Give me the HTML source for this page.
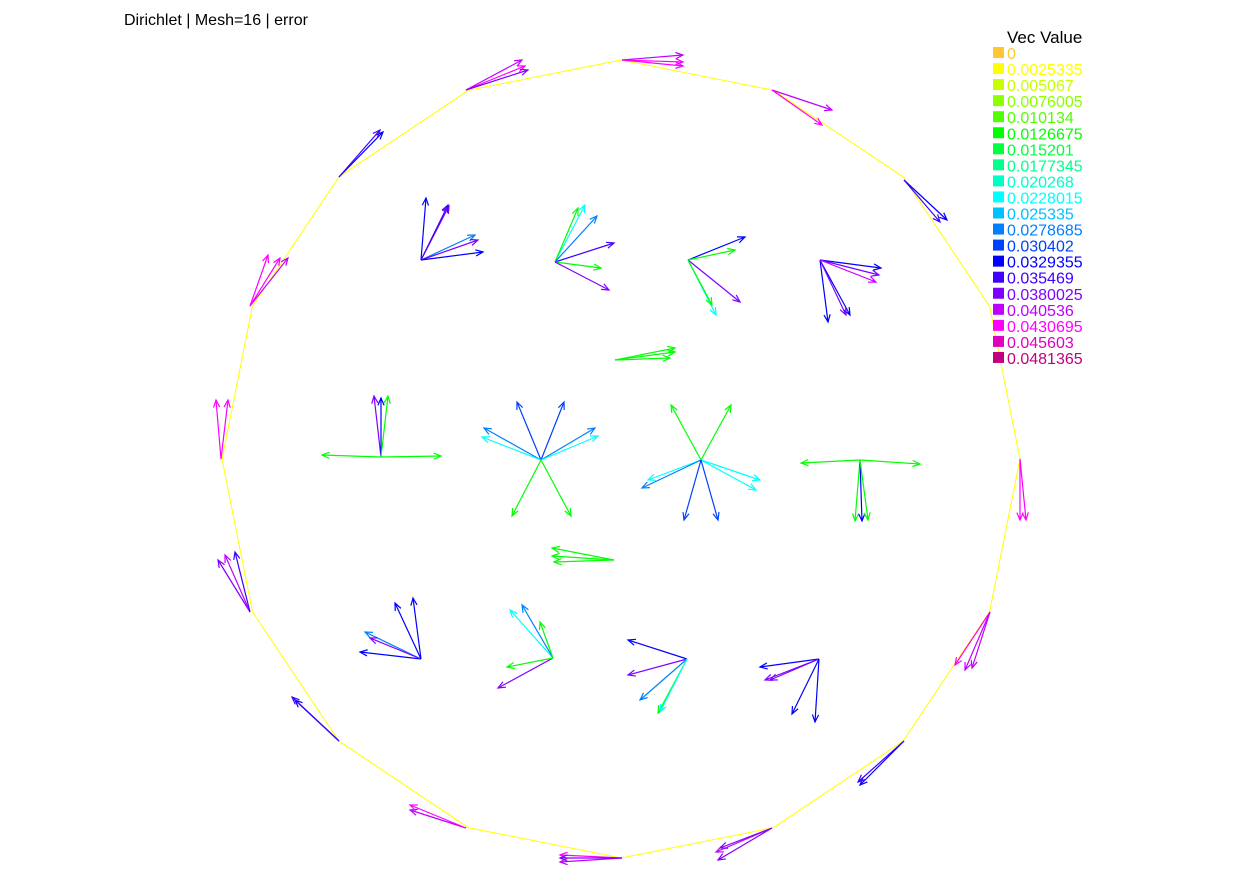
<!DOCTYPE html>
<html><head><meta charset="utf-8"><style>
body{margin:0;background:#fff;}
svg{display:block;}
text{font-family:"Liberation Sans",sans-serif;}
</style></head><body>
<svg id="c" width="1242" height="877">
<text x="124" y="25" font-size="16" fill="#000">Dirichlet | Mesh=16 | error</text>
<text x="1007" y="43" font-size="17" fill="#000">Vec Value</text>
<g id="mesh"></g><g id="arrows"></g><g id="legend"></g>
</svg>
<script>
const NS="http://www.w3.org/2000/svg";
const legendLabels=["0","0.0025335","0.005067","0.0076005","0.010134","0.0126675","0.015201","0.0177345","0.020268","0.0228015","0.025335","0.0278685","0.030402","0.0329355","0.035469","0.0380025","0.040536","0.0430695","0.045603","0.0481365"];
const legendColors=["#ffc832","#ffff00","#c8ff00","#8cff00","#50ff00","#00ff00","#00ff3c","#00ff8c","#00ffc8","#00ffff","#00c0ff","#0080ff","#0040ff","#0000ff","#4000ff","#8000ff","#c000ff","#ff00ff","#e000c0","#c00080"];
const meshCenter=[621,459], meshRadius=399, meshSides=16;
// arrows: origin x, origin y, tip x, tip y, color index
const arrowX0=[622,622,622,772,772,904,904,1020,1020,990,990,990,904,904,772,772,772,622,622,622,466,466,339,339,250,250,250,221,221,250,250,250,339,339,466,466,466,
421,421,421,421,421,421,555,555,555,555,555,555,688,688,688,688,688,820,820,820,820,820,820,615,615,615,
381,381,381,381,381,541,541,541,541,541,541,541,541,701,701,701,701,701,701,701,701,860,860,860,860,860,614,614,614,
421,421,421,421,421,553,553,553,553,553,687,687,687,687,687,819,819,819,819,819];
const arrowY0=[60,60,60,90,90,180,180,459,459,612,612,612,741,741,828,828,828,858,858,858,828,828,741,741,612,612,612,459,459,306,306,306,177,177,90,90,90,
260,260,260,260,260,260,262,262,262,262,262,262,260,260,260,260,260,260,260,260,260,260,260,360,360,360,
457,457,457,457,457,460,460,460,460,460,460,460,460,460,460,460,460,460,460,460,460,460,460,460,460,460,560,560,560,
659,659,659,659,659,658,658,658,658,658,659,659,659,659,659,659,659,659,659,659];
const arrowX1=[683,683,683,832,822,947,940,1020,1026,955,965,972,860,858,718,716,720,560,560,560,410,410,295,292,218,225,235,216,228,268,288,280,383,380,522,525,528,
426,449,448,475,478,483,585,578,597,614,601,609,745,735,716,740,712,881,879,876,828,850,846,675,675,670,
374,381,388,322,441,517,564,484,482,595,598,512,571,671,731,648,642,756,760,684,718,855,862,868,801,920,552,552,554,
360,365,370,395,413,498,507,510,522,540,628,628,640,658,660,760,765,770,792,815];
const arrowY1=[55,62,66,110,125,220,222,520,520,665,670,668,785,782,860,852,848,862,855,858,810,805,700,697,560,555,552,400,400,255,258,258,132,130,60,66,70,
198,206,205,235,240,252,205,208,216,243,268,290,237,250,315,302,305,268,275,282,322,315,315,348,352,358,
396,398,396,455,456,402,402,428,437,428,436,516,516,405,405,480,488,490,480,520,520,521,521,520,463,464,548,556,562,
652,632,638,603,598,688,667,610,605,622,640,675,700,713,712,667,680,680,714,722];
const arrowC=[16,17,17,16,17,13,14,17,17,17,16,16,13,14,15,16,15,16,17,15,16,17,13,14,15,16,14,17,17,17,16,17,13,14,16,17,15,
13,15,14,11,15,13,9,5,11,14,5,15,13,5,9,15,5,13,15,16,13,13,15,5,5,5,
15,13,5,5,5,12,12,11,9,11,9,5,5,5,5,9,11,9,9,12,12,5,13,5,5,5,5,5,5,
13,11,15,13,13,15,5,9,11,5,13,15,11,5,9,13,15,15,13,13];
function mk(tag,attrs,parent){const e=document.createElementNS(NS,tag);for(const k in attrs)e.setAttribute(k,attrs[k]);parent.appendChild(e);return e;}
// mesh boundary
const meshG=document.getElementById('mesh');
let pts=[];
for(let i=0;i<=meshSides;i++){const a=Math.PI/2-i*2*Math.PI/meshSides;pts.push((meshCenter[0]+meshRadius*Math.cos(a)).toFixed(1)+","+(meshCenter[1]-meshRadius*Math.sin(a)).toFixed(1));}
const poly=mk('polyline',{points:pts.join(' '),fill:'none',stroke:'#ffff00','stroke-width':1},meshG);


// arrows
const ag=document.getElementById('arrows');
for(let i=0;i<arrowX0.length;i++){
  const x0=arrowX0[i],y0=arrowY0[i],x1=arrowX1[i],y1=arrowY1[i],col=legendColors[arrowC[i]];
  const g=mk('g',{stroke:col,'stroke-width':1.2,fill:'none'},ag);
  
  
  mk('line',{x1:x0,y1:y0,x2:x1,y2:y1},g);
  const ang=Math.atan2(y1-y0,x1-x0),h=8,s=0.4;
  const d=`M${x1-h*Math.cos(ang-s)},${y1-h*Math.sin(ang-s)}L${x1},${y1}L${x1-h*Math.cos(ang+s)},${y1-h*Math.sin(ang+s)}`;
  mk('path',{d:d},g);
}
// legend
const lg=document.getElementById('legend');
for(let i=0;i<legendLabels.length;i++){
  const y=47+i*16.05;
  const r=mk('rect',{x:993,y:y,width:11,height:11,fill:legendColors[i]},lg);
  
  
  const t=mk('text',{x:1007,y:y+12,'font-size':16,fill:legendColors[i]},lg);
  t.textContent=legendLabels[i];
  
  
}
</script>
</body></html>
